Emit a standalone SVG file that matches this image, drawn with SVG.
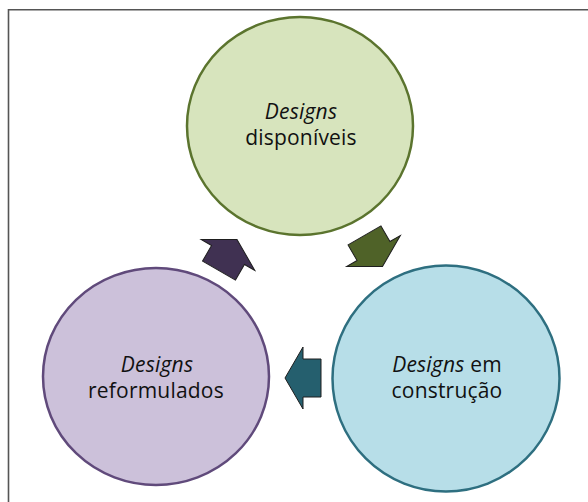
<svg xmlns="http://www.w3.org/2000/svg" width="588" height="502" viewBox="0 0 588 502">
<style>
.t{font-family:"Open Sans","Liberation Sans",sans-serif;font-size:21px;fill:#111111;text-anchor:middle;letter-spacing:0.2px}
.i{font-style:italic}
.arr{stroke:#1e1e1e;stroke-width:1;stroke-linejoin:miter}
</style>
<defs>
<polygon id="ar" points="-18,-19 0,-19 0,-31 18,0 0,31 0,19 -18,19"/>
</defs>
<rect width="588" height="502" fill="#ffffff"/>
<path d="M8.5,502 V9.8 H588" fill="none" stroke="#555555" stroke-width="1.6"/>
<g id="connectors">
<use href="#ar" class="arr" fill="#4f6228" transform="translate(373.5,251) rotate(60)"/>
<use href="#ar" class="arr" fill="#255f6e" transform="translate(303,378) rotate(180)"/>
<use href="#ar" class="arr" fill="#403152" transform="translate(228,255) rotate(-60)"/>
</g>
<g id="disponiveis">
<ellipse cx="300" cy="126" rx="113" ry="109" fill="#d7e4bd" stroke="#5b742e" stroke-width="2.5"/>
<text class="t" x="301" y="119"><tspan class="i">Designs</tspan></text>
<text class="t" x="301" y="145">disponíveis</text>
</g>
<g id="reformulados">
<ellipse cx="156" cy="376.5" rx="113" ry="108.5" fill="#ccc1da" stroke="#604a7b" stroke-width="2.5"/>
<text class="t" x="157" y="372"><tspan class="i">Designs</tspan></text>
<text class="t" x="156" y="398">reformulados</text>
</g>
<g id="construcao">
<ellipse cx="446" cy="378.5" rx="113.5" ry="113" fill="#b7dee8" stroke="#2e6f80" stroke-width="2.5"/>
<text class="t" x="447" y="372"><tspan class="i">Designs</tspan> em</text>
<text class="t" x="447" y="398">construção</text>
</g>
</svg>
